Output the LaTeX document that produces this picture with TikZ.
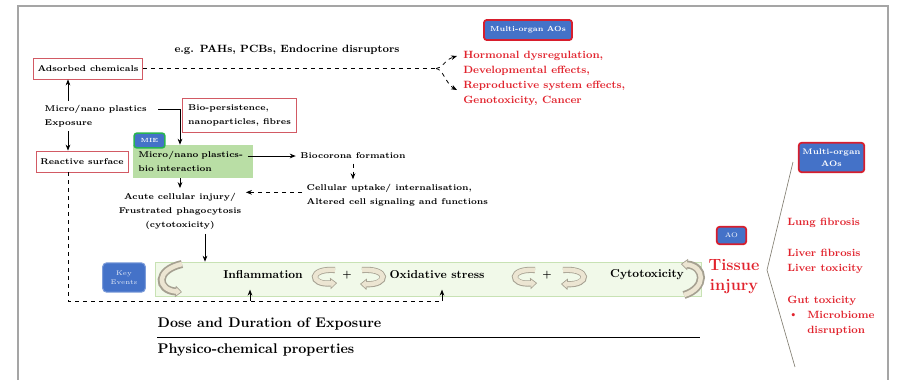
\documentclass[tikz,border=0pt]{standalone}
\usepackage{fontspec}
\usetikzlibrary{arrows.meta}
\definecolor{boxred}{RGB}{210,90,100}
\definecolor{aored}{RGB}{215,30,45}
\definecolor{aoblue}{RGB}{68,114,200}
\definecolor{txtred}{RGB}{225,35,45}
\definecolor{mnfill}{RGB}{185,222,165}
\definecolor{kefill}{RGB}{241,249,233}
\definecolor{keedge}{RGB}{200,226,180}
\definecolor{bandfill}{RGB}{236,229,210}
\definecolor{bandedge}{RGB}{165,160,145}
\definecolor{framegrey}{RGB}{165,165,165}
\definecolor{miegreen}{RGB}{40,180,80}
\newcommand{\labfont}{\bfseries\fontsize{6.3}{10.5}\selectfont}
\newcommand{\redfont}{\bfseries\fontsize{7.9}{11.25}\selectfont}
\newcommand{\bandarrow}[2]{%
  \draw[bandout,#1] #2;
  \draw[bandin] #2;}
\tikzset{
  lab/.style={font=\labfont},
  redbox/.style={draw=boxred, line width=0.6pt, fill=white, inner sep=3pt, font=\labfont},
  aobox/.style={draw=aored, line width=1.3pt, fill=aoblue, rounded corners=2pt,
    text=white, align=center, inner sep=1.5pt, font=\bfseries\fontsize{5.5}{7}\selectfont},
  redtxt/.style={text=txtred, align=left, inner sep=0pt, font=\redfont},
  barlab/.style={font=\bfseries\fontsize{8.6}{10}\selectfont},
  arr/.style={-{Stealth[length=4.5pt,width=3.5pt]}, line width=0.6pt},
  darr/.style={arr, dashed},
  bandout/.style={draw=bandedge, line width=4.6pt,
    -{Triangle[length=5pt,width=8.5pt,fill=bandfill,line width=0.5pt]}},
  bandin/.style={draw=bandfill, line width=3.4pt, shorten >=4pt}
}
\begin{document}
\begin{tikzpicture}[x=0.75pt,y=-0.75pt]
  \useasboundingbox (0,0) rectangle (897,380);
  \draw[framegrey, line width=0.8pt] (18,380) -- (18,6) -- (888,6) -- (888,380);

  \coordinate (col) at (68,0);
  \coordinate (drop) at (180,0);
  \coordinate (kedrop) at (205,0);

  \node[lab, font=\bfseries\fontsize{7.9}{10}\selectfont] (eg) at (287,50) {e.g. PAHs, PCBs, Endocrine disruptors};
  \node[redbox, minimum width=78pt, minimum height=15.75pt] (adsorbed) at (88,68.5) {Adsorbed chemicals};
  \node[aobox, minimum width=66pt, minimum height=15pt] (aotop) at (528,30) {Multi-organ AOs};
  \node[redtxt, anchor=north west] (systemic) at (463,51) {Hormonal dysregulation,\\Developmental effects,\\Reproductive system effects,\\Genotoxicity, Cancer};
  \coordinate (split) at (436,68.5);
  \coordinate (hormtip) at (457,56);
  \coordinate (reprotip) at (457,90);

  \node[lab, anchor=west] (mnp) at (40,109.5) {Micro/nano plastics};
  \node[lab, anchor=west] (expo) at (40,123) {Exposure};
  \node[redbox, align=left, minimum width=86pt, minimum height=25.5pt] (bioper) at (239.5,115) {Bio-persistence,\\nanoparticles, fibres};
  \node[redbox, minimum width=69pt, minimum height=15.75pt] (reactive) at (82,161.5) {Reactive surface};
  \node[fill=mnfill, minimum width=90pt, minimum height=24.75pt, text width=82pt, align=left,
    inner sep=4pt, font=\labfont] (mnbio) at (193,161.5) {Micro/nano plastics-\\bio interaction};
  \node[draw=miegreen, line width=1.2pt, fill=aoblue, rounded corners=2pt, minimum width=23pt,
    minimum height=11pt, inner sep=1pt, text=white, font=\bfseries\fontsize{4.5}{5}\selectfont] (mie) at (149.5,140.5) {MIE};
  \node[lab] (biocorona) at (353,156) {Biocorona formation};
  \node[lab, align=left, anchor=west] (uptake) at (302,195) {Cellular uptake/ internalisation,\\Altered cell signaling and functions};
  \node[lab, align=center] (acute) at (180,211) {Acute cellular injury/\\Frustrated phagocytosis\\(cytotoxicity)};

  \node[draw=keedge, fill=kefill, minimum width=409.5pt, minimum height=25.5pt] (kebar) at (428,279) {};
  \node[fill=aoblue, draw=aoblue!70!white, line width=0.8pt, rounded corners=3pt, minimum width=32pt,
    minimum height=22pt, inner sep=1pt, align=center, text=white!85!aoblue,
    font=\fontsize{5}{6.5}\selectfont] (keyev) at (124,277.5) {Key\\Events};
  \node[barlab] (inflam) at (263,275) {Inflammation};
  \node[barlab, font=\bfseries\fontsize{7}{8}\selectfont] (plusa) at (347,275) {+};
  \node[barlab] (oxid) at (437,275) {Oxidative stress};
  \node[barlab, font=\bfseries\fontsize{7}{8}\selectfont] (plusb) at (547,275) {+};
  \node[barlab] (cyto) at (647,275) {Cytotoxicity};
  \coordinate (up1) at (250,301);
  \coordinate (up2) at (442,301);

  \node[anchor=west, font=\bfseries\fontsize{10.5}{12}\selectfont] (dose) at (153,323.5) {Dose and Duration of Exposure};
  \node[anchor=west, font=\bfseries\fontsize{10.5}{12}\selectfont] (physico) at (153,350) {Physico-chemical properties};
  \coordinate (ruleL) at (157,337.5);
  \coordinate (ruleR) at (700,337.5);

  \node[aobox, minimum width=22pt, minimum height=13pt, font=\fontsize{5}{6}\selectfont] (ao) at (731.5,235.5) {AO};
  \node[text=txtred, align=center, font=\bfseries\fontsize{12.2}{15}\selectfont] (tissue) at (734,277) {Tissue\\injury};
  \node[aobox, minimum width=49pt, minimum height=22pt, font=\bfseries\fontsize{6}{9}\selectfont] (aoright) at (831.5,157.5) {Multi-organ\\AOs};
  \coordinate (brtop) at (793,162);
  \coordinate (brmid) at (767,270);
  \coordinate (brbot) at (795,367);
  \node[redtxt, anchor=west] (lung) at (787,223) {Lung fibrosis};
  \node[redtxt, anchor=west] (liver) at (787,261.5) {Liver fibrosis\\Liver toxicity};
  \node[redtxt, anchor=west] (gut) at (787,301) {Gut toxicity};
  \node[redtxt, anchor=west] (bullet) at (788,316) {\textbullet};
  \node[redtxt, anchor=west] (microb) at (807,323.5) {Microbiome\\disruption};

  \begin{scope}[line width=0.6pt]
    \draw[dashed] (adsorbed.east) to (split);
    \draw[darr] (split) .. controls (443,68.5) and (444,60) .. (hormtip);
    \draw[darr] (split) .. controls (443,69) and (446,84) .. (reprotip);
    \draw[arr] (mnp.north -| col) to (adsorbed.south -| col);
    \draw[arr] (expo.south -| col) to (reactive.north -| col);
    \draw[arr] ([xshift=5pt]mnp.east) -| (mnbio.north -| drop);
    \draw[arr] ([xshift=-4pt]mnbio.east |- biocorona.west) to (biocorona.west);
    \draw[darr] (biocorona.south) to (uptake.north -| biocorona.south);
    \draw[darr] ([yshift=2pt]uptake.west) to ([yshift=2pt]acute.east |- uptake.west);
    \draw[arr] (mnbio.south -| acute.north) to (acute.north);
    \draw[arr] (acute.south -| kedrop) to (kebar.north -| kedrop);
    \draw[dashed] (reactive.south -| col) |- (up2);
    \draw[arr] (up1) to ([yshift=5pt]kebar.south -| up1);
    \draw[arr] (up2) to ([yshift=5pt]kebar.south -| up2);
    \draw[line width=1.1pt] (ruleL) to (ruleR);
    \draw[bandedge!80!black, line width=0.5pt] (brtop) -- (brmid) -- (brbot);
  \end{scope}

  \bandarrow{line width=6pt}{(182,264) .. controls (155,270) and (157,290) .. (182,292)}
  \bandarrow{}{(335,270) .. controls (309,268) and (309,285) .. (337,283)}
  \bandarrow{}{(362,270) .. controls (389,268) and (389,285) .. (360,284)}
  \bandarrow{}{(535,270) .. controls (509,268) and (509,285) .. (537,283)}
  \bandarrow{}{(563,270) .. controls (590,268) and (590,285) .. (561,284)}
  \bandarrow{line width=6pt}{(684,295) .. controls (707,288) and (705,266) .. (681,264)}
\end{tikzpicture}
\end{document}
